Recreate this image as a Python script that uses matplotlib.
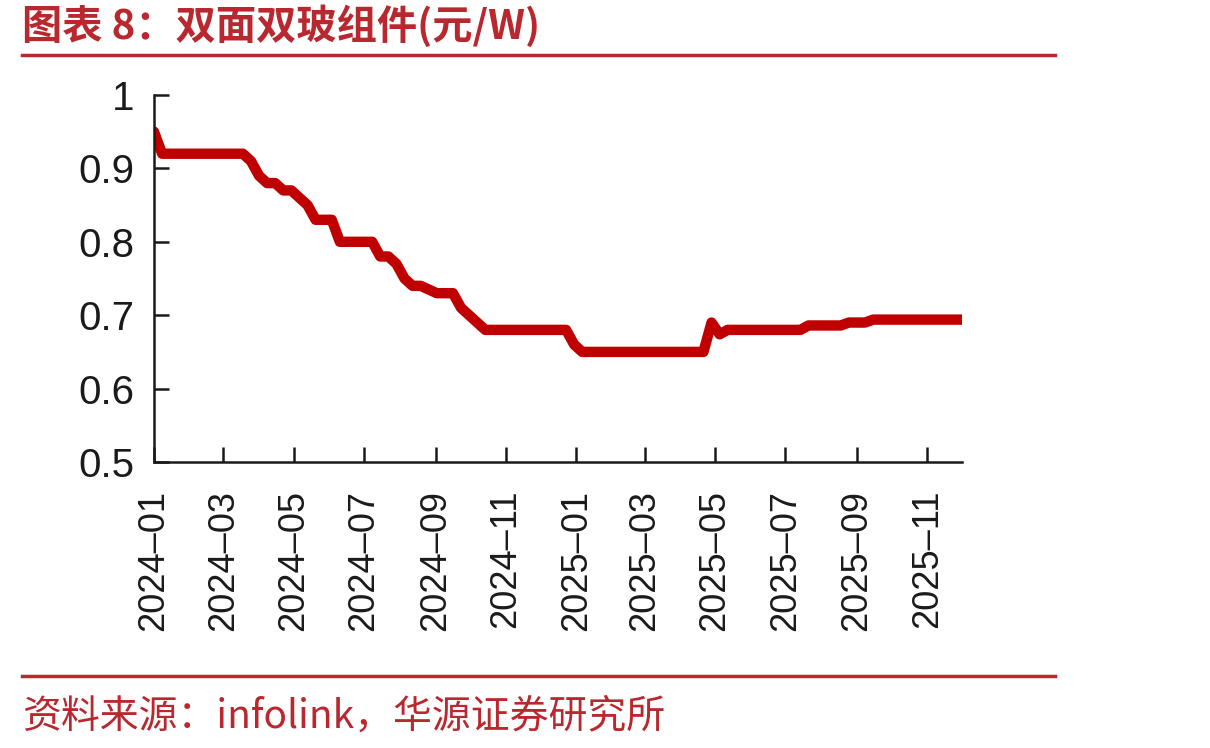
import matplotlib
matplotlib.use("Agg")
import matplotlib.pyplot as plt
import matplotlib.dates as mdates
from matplotlib.lines import Line2D
import pandas as pd

# ---- palette ----
RED_TXT = "#b8282e"
LINE_RED = "#c00000"
INK = "#1a1a1a"

plt.rcParams["font.family"] = ["Liberation Sans", "DejaVu Sans"]
CJK = ["Noto Sans CJK SC", "DejaVu Sans"]

# ---- data: weekly price, yuan/W ----
start_date = "2024-01-01"
price = [
    0.95,
    0.92, 0.92, 0.92, 0.92, 0.92, 0.92, 0.92, 0.92, 0.92, 0.92, 0.92,
    0.91, 0.89, 0.88, 0.88, 0.87, 0.87, 0.86, 0.85, 0.83, 0.83, 0.83,
    0.80, 0.80, 0.80, 0.80, 0.80, 0.78, 0.78, 0.77, 0.75, 0.74, 0.74,
    0.735, 0.73, 0.73, 0.73, 0.71, 0.70, 0.69,
    0.68, 0.68, 0.68, 0.68, 0.68, 0.68, 0.68, 0.68, 0.68, 0.68, 0.68,
    0.66,
    0.65, 0.65, 0.65, 0.65, 0.65, 0.65, 0.65, 0.65,
    0.65, 0.65, 0.65, 0.65, 0.65, 0.65, 0.65, 0.65,
    0.69, 0.674,
    0.68, 0.68, 0.68, 0.68, 0.68, 0.68, 0.68, 0.68, 0.68, 0.68,
    0.686, 0.686, 0.686, 0.686, 0.686,
    0.69, 0.69, 0.69,
    0.694, 0.694, 0.694, 0.694, 0.694, 0.694,
    0.694, 0.694, 0.694, 0.694, 0.694, 0.694,
]
dates = pd.date_range(start_date, periods=len(price), freq="W-MON")

y_ticks = [0.5, 0.6, 0.7, 0.8, 0.9, 1.0]
y_ticklabels = ["0.5", "0.6", "0.7", "0.8", "0.9", "1"]

title = "图表 8：双面双玻组件(元/W)"
source = "资料来源：infolink，华源证券研究所"

fig = plt.figure(figsize=(12.1, 7.48), dpi=100)
ax = fig.add_axes([154 / 1210, 1 - 462 / 748, (962 - 154) / 1210, (462 - 95) / 748])

ax.plot(dates, price, color=LINE_RED, lw=7.5,
        solid_capstyle="round", solid_joinstyle="round")

ax.set_xlim(dates[0], dates[-1])
ax.set_ylim(0.5, 1.0)
ax.set_yticks(y_ticks)
ax.set_yticklabels(y_ticklabels)
ax.xaxis.set_major_locator(mdates.MonthLocator(bymonth=[1, 3, 5, 7, 9, 11]))
ax.xaxis.set_major_formatter(mdates.DateFormatter("%Y\u2013%m"))
plt.setp(ax.get_xticklabels(), rotation=90)

for s in ["top", "right"]:
    ax.spines[s].set_visible(False)
for s in ["left", "bottom"]:
    ax.spines[s].set_linewidth(1.8)
    ax.spines[s].set_color(INK)
ax.tick_params(axis="both", direction="in", length=11, width=1.8, color=INK,
               labelcolor=INK)
ax.tick_params(axis="y", pad=14, labelsize=29)
ax.tick_params(axis="x", pad=20, labelsize=26)

# header / footer
fig.text(22 / 1210, 1 - 27 / 748, title, family=CJK, fontsize=29,
         fontweight="bold", color=RED_TXT, ha="left", va="center")
fig.add_artist(Line2D([22 / 1210, 1055 / 1210], [1 - 55 / 748] * 2,
                      color=RED_TXT, lw=2.5))
fig.add_artist(Line2D([22 / 1210, 1055 / 1210], [1 - 676 / 748] * 2,
                      color=RED_TXT, lw=2.5))
fig.text(22 / 1210, 1 - 717 / 748, source, family=CJK, fontsize=28,
         color=RED_TXT, ha="left", va="center")

fig.savefig("out.png", dpi=100, facecolor="white")
